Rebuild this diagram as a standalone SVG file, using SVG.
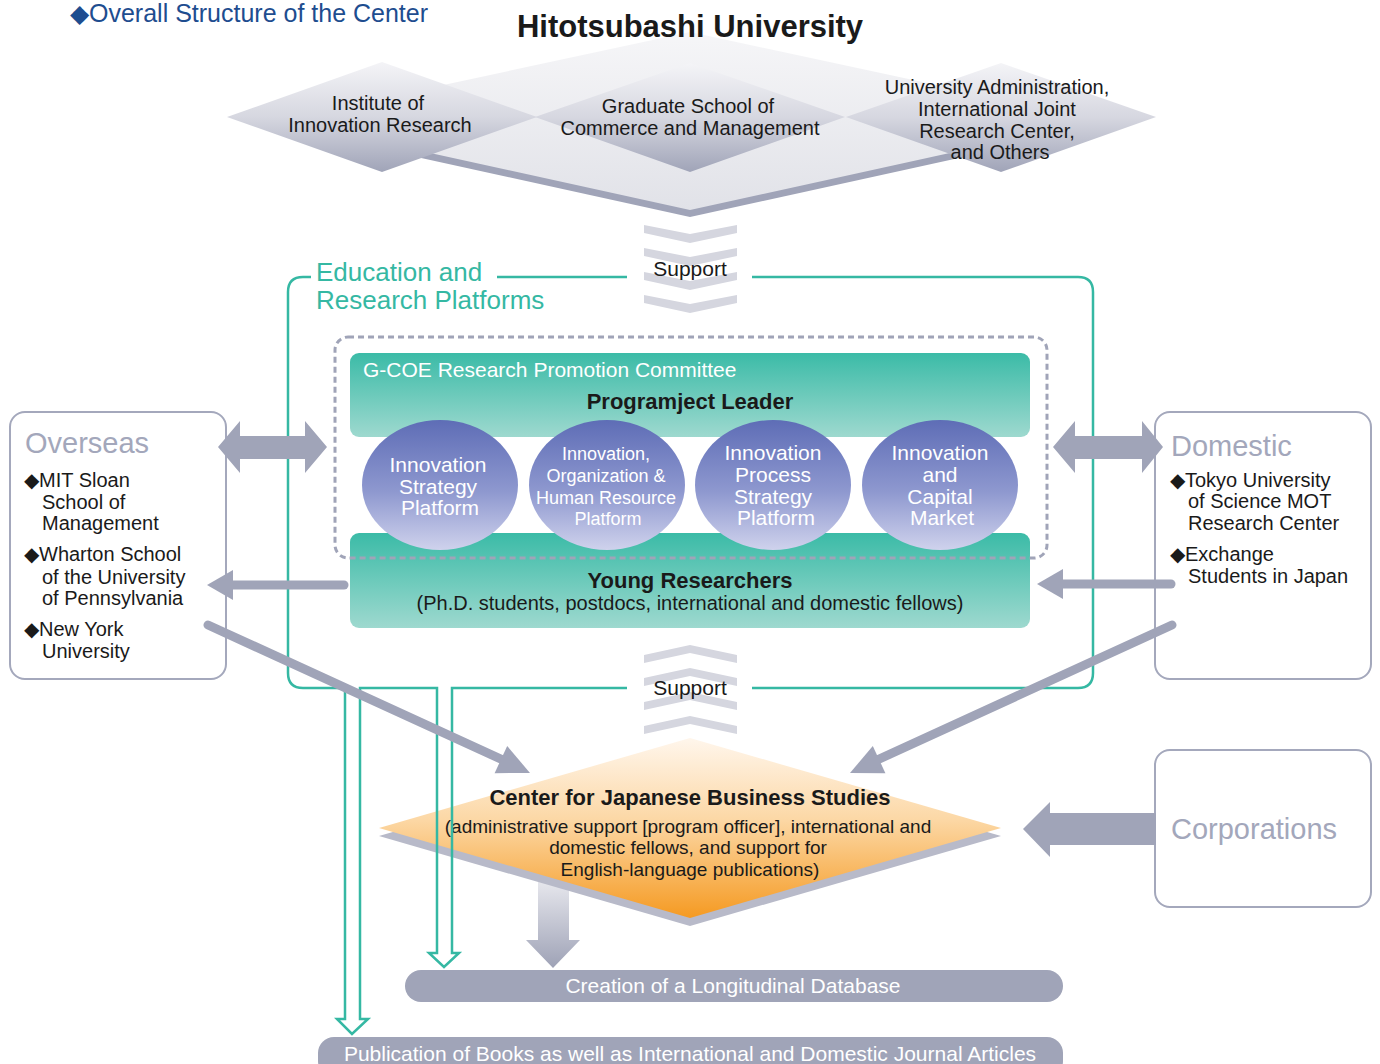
<svg xmlns="http://www.w3.org/2000/svg" width="1380" height="1064" viewBox="0 0 1380 1064">
<style>
text{font-family:"Liberation Sans",Arial,sans-serif}
.c{text-anchor:middle}
.blk{fill:#1a1a1a}
.dia{font-size:20px;fill:#1a1a1a;text-anchor:middle}
.ct{font-size:21px;fill:#ffffff;text-anchor:middle}
.ct2{font-size:18px;fill:#ffffff;text-anchor:middle}
.side{fill:#ffffff;stroke:#a4a8bc;stroke-width:2}
.sideT{fill:#a3a7bb;font-size:29px}
.item{font-size:20px;fill:#1a1a1a}
.teal{fill:none;stroke:#35b8a3;stroke-width:2.5}
.gray{fill:#a0a4b8}
.gline{stroke:#a0a4b8;stroke-width:9;stroke-linecap:round;fill:none}
.chev{fill:#d5d6df}
.sup{font-size:21px;fill:#1a1a1a;text-anchor:middle}
.bar{fill:#a0a4b8}
.barT{font-size:21px;fill:#ffffff;text-anchor:middle}
</style>
<defs>
<linearGradient id="gBig" x1="0" y1="0" x2="0" y2="1"><stop offset="0" stop-color="#f6f6f8"/><stop offset="1" stop-color="#e1e2e8"/></linearGradient>
<linearGradient id="gSmall" x1="0" y1="0" x2="0" y2="1"><stop offset="0" stop-color="#f4f4f7"/><stop offset="0.5" stop-color="#d6d7e0"/><stop offset="1" stop-color="#a0a4b8"/></linearGradient>
<linearGradient id="gTeal" x1="0" y1="0" x2="0" y2="1"><stop offset="0" stop-color="#3bbba7"/><stop offset="1" stop-color="#9ed9cf"/></linearGradient>
<linearGradient id="gCirc" x1="0" y1="0" x2="0" y2="1"><stop offset="0" stop-color="#5e6db6"/><stop offset="0.55" stop-color="#8e98cf"/><stop offset="1" stop-color="#cfd2ec"/></linearGradient>
<linearGradient id="gOr" x1="0" y1="0" x2="0" y2="1"><stop offset="0" stop-color="#fff6ec"/><stop offset="0.45" stop-color="#fcd8a6"/><stop offset="1" stop-color="#f59a22"/></linearGradient>
<linearGradient id="gDown" x1="0" y1="0" x2="0" y2="1"><stop offset="0" stop-color="#f0f0f4"/><stop offset="1" stop-color="#9ea2b6"/></linearGradient>
</defs>

<rect width="1380" height="1064" fill="#ffffff"/>

<g id="title">
<text x="70" y="22" font-size="25" fill="#1e4d8f">◆Overall Structure of the Center</text>
</g>

<g id="hitotsubashi">
<polygon points="690,40 1100,127 690,217 280,127" fill="#a0a4b8"/>
<polygon points="690,32 1100,120 690,210 280,120" fill="url(#gBig)"/>
<text x="690" y="37" class="c blk" font-size="31" font-weight="bold">Hitotsubashi University</text>
</g>

<g id="institute">
<polygon points="382,62 537,117 382,172 227,117" fill="url(#gSmall)"/>
<text class="dia" x="378" y="110">Institute of</text>
<text class="dia" x="380" y="132">Innovation Research</text>
</g>
<g id="graduate">
<polygon points="690,63 845,117 690,172 535,117" fill="url(#gSmall)"/>
<text class="dia" x="688" y="113">Graduate School of</text>
<text class="dia" x="690" y="135">Commerce and Management</text>
</g>
<g id="admin">
<polygon points="1001,63 1156,117 1001,172 846,117" fill="url(#gSmall)"/>
<text class="dia" x="997" y="94">University Administration,</text>
<text class="dia" x="997" y="116">International Joint</text>
<text class="dia" x="997" y="138">Research Center,</text>
<text class="dia" x="1000" y="159">and Others</text>
</g>

<g id="support-top">
<polygon class="chev" points="644,225 690,234 737,225 737,233 690,243 644,233"/>
<polygon class="chev" points="644,248 690,257 737,248 737,256 690,266 644,256"/>
<polygon class="chev" points="644,272 690,281 737,272 737,280 690,290 644,280"/>
<polygon class="chev" points="644,295 690,304 737,295 737,303 690,313 644,303"/>
<text class="sup" x="690" y="276">Support</text>
</g>

<g id="support-bottom">
<polygon class="chev" points="644,655 690,645 737,655 737,663 690,653 644,663"/>
<polygon class="chev" points="644,678 690,668 737,678 737,686 690,676 644,686"/>
<polygon class="chev" points="644,702 690,692 737,702 737,710 690,700 644,710"/>
<polygon class="chev" points="644,726 690,716 737,726 737,734 690,724 644,734"/>
<text class="sup" x="690" y="695">Support</text>
</g>

<g id="platforms-frame">
<path class="teal" d="M311,277 L303,277 Q288,277 288,292 L288,673 Q288,688 303,688 L345,688"/>
<path class="teal" d="M497,277 L627,277"/>
<path class="teal" d="M752,277 L1078,277 Q1093,277 1093,292 L1093,673 Q1093,688 1078,688 L752,688"/>
<text x="316" y="281" font-size="26" fill="#35b8a3">Education and</text>
<text x="316" y="309" font-size="26" fill="#35b8a3">Research Platforms</text>
</g>

<g id="gcoe">
<rect x="350" y="353" width="680" height="84" rx="9" fill="url(#gTeal)"/>
<text x="363" y="377" font-size="21" fill="#ffffff">G-COE Research Promotion Committee</text>
<text x="690" y="409" class="c blk" font-size="22" font-weight="bold">Programject Leader</text>
</g>

<g id="young">
<rect x="350" y="533" width="680" height="95" rx="9" fill="url(#gTeal)"/>
<text x="690" y="588" class="c blk" font-size="22" font-weight="bold">Young Researchers</text>
<text x="690" y="610" class="c blk" font-size="20">(Ph.D. students, postdocs, international and domestic fellows)</text>
</g>

<g id="promotion-boundary">
<rect x="335" y="337" width="712" height="221" rx="13" fill="none" stroke="#a0a4b8" stroke-width="3" stroke-dasharray="6,4"/>
</g>

<g id="p1">
<ellipse cx="440" cy="485" rx="78" ry="65" fill="url(#gCirc)"/>
<text class="ct" x="438" y="472">Innovation</text>
<text class="ct" x="438" y="494">Strategy</text>
<text class="ct" x="440" y="515">Platform</text>
</g>
<g id="p2">
<ellipse cx="607" cy="485" rx="78" ry="65" fill="url(#gCirc)"/>
<text class="ct2" x="606" y="460">Innovation,</text>
<text class="ct2" x="606" y="482">Organization &amp;</text>
<text class="ct2" x="606" y="504">Human Resource</text>
<text class="ct2" x="608" y="525">Platform</text>
</g>
<g id="p3">
<ellipse cx="773" cy="485" rx="78" ry="65" fill="url(#gCirc)"/>
<text class="ct" x="773" y="460">Innovation</text>
<text class="ct" x="773" y="482">Process</text>
<text class="ct" x="773" y="504">Strategy</text>
<text class="ct" x="776" y="525">Platform</text>
</g>
<g id="p4">
<ellipse cx="940" cy="485" rx="78" ry="65" fill="url(#gCirc)"/>
<text class="ct" x="940" y="460">Innovation</text>
<text class="ct" x="940" y="482">and</text>
<text class="ct" x="940" y="504">Capital</text>
<text class="ct" x="942" y="525">Market</text>
</g>

<g id="overseas">
<rect class="side" x="10" y="412" width="216" height="267" rx="15"/>
<text class="sideT" x="25" y="453">Overseas</text>
<text class="item" x="24" y="487">◆MIT Sloan</text>
<text class="item" x="42" y="509">School of</text>
<text class="item" x="42" y="530">Management</text>
<text class="item" x="24" y="561">◆Wharton School</text>
<text class="item" x="42" y="584">of the University</text>
<text class="item" x="42" y="605">of Pennsylvania</text>
<text class="item" x="24" y="636">◆New York</text>
<text class="item" x="42" y="658">University</text>
</g>

<g id="domestic">
<rect class="side" x="1155" y="412" width="216" height="267" rx="15"/>
<text class="sideT" x="1171" y="456">Domestic</text>
<text class="item" x="1170" y="487">◆Tokyo University</text>
<text class="item" x="1188" y="508">of Science MOT</text>
<text class="item" x="1188" y="530">Research Center</text>
<text class="item" x="1170" y="561">◆Exchange</text>
<text class="item" x="1188" y="583">Students in Japan</text>
</g>

<g id="corporations">
<rect class="side" x="1155" y="750" width="216" height="157" rx="15"/>
<text class="sideT" x="1171" y="839">Corporations</text>
</g>

<g id="database">
<rect class="bar" x="405" y="970" width="658" height="32" rx="16"/>
<text class="barT" x="733" y="993">Creation of a Longitudinal Database</text>
</g>

<g id="publication">
<rect class="bar" x="318" y="1037" width="745" height="40" rx="16"/>
<text class="barT" x="690" y="1061">Publication of Books as well as International and Domestic Journal Articles</text>
</g>

<g id="center">
<polygon points="538,870 569,870 569,940 580,940 553,968 526,940 538,940" fill="url(#gDown)"/>
<polygon points="690,746 1001,836 690,926 379,836" fill="#b8bac9"/>
<polygon points="690,738 1001,828 690,918 379,828" fill="url(#gOr)"/>
<text x="690" y="805" class="c blk" font-size="22" font-weight="bold">Center for Japanese Business Studies</text>
<text x="688" y="833" class="c blk" font-size="19">(administrative support [program officer], international and</text>
<text x="688" y="854" class="c blk" font-size="19">domestic fellows, and support for</text>
<text x="690" y="876" class="c blk" font-size="19">English-language publications)</text>
</g>

<g id="connectors">
<path class="teal" d="M345,688 L345,1019 L337,1019 L352,1034 L368,1019 L360,1019 L360,688 L437,688 L437,953 L429,953 L444,967 L459,953 L452,953 L452,688 L627,688"/>
<polygon class="gray" points="218,447 240,421 240,436 305,436 305,421 327,447 305,473 305,459 240,459 240,473"/>
<polygon class="gray" points="1053,447 1075,421 1075,436 1142,436 1142,421 1163,447 1142,473 1142,459 1075,459 1075,473"/>
<line class="gline" x1="344" y1="585" x2="230" y2="585"/>
<polygon class="gray" points="233,570 207,585 233,600"/>
<line class="gline" x1="1171" y1="584" x2="1060" y2="584"/>
<polygon class="gray" points="1063,569 1037,584 1063,599"/>
<line class="gline" x1="208" y1="625" x2="503" y2="760"/>
<polygon class="gray" points="530,773 494.6,773.2 507.2,746"/>
<line class="gline" x1="1172" y1="625" x2="877" y2="760"/>
<polygon class="gray" points="850,773 885.4,773.2 872.8,746"/>
<polygon class="gray" points="1023,829 1050,802 1050,813 1156,813 1156,845 1050,845 1050,857"/>
</g>
</svg>
